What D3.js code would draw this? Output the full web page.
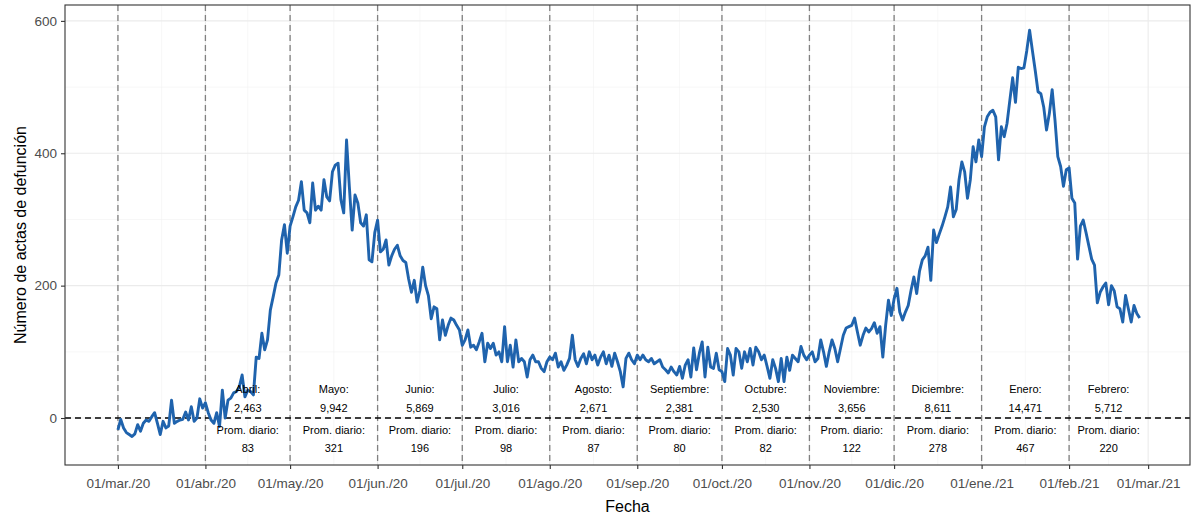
<!DOCTYPE html>
<html>
<head>
<meta charset="utf-8">
<script src="https://cdn.jsdelivr.net/npm/d3@7"></script>
<style>
  body { margin: 0; background: #fff; }
  text { font-family: "Liberation Sans", Arial, sans-serif; }
</style>
</head>
<body>
<div id="chart"></div>
<script>
// daily values, one array per month (starting on the 1st)
const mar20 = [-18,-2,-15,-22,-25,-28,-24,-10,-20,-8,-3,-5,2,8,-8,-25,-5,-15,-12,27,-8,-5,-3,-2,9,-3,17,-5,0,29,15];
const abr20 = [23,8,-3,-8,8,-13,42,0,27,30,38,40,47,65,32,42,40,35,92,90,128,103,118,163,183,204,216,269,292,249];
const may20 = [290,304,319,329,357,314,310,295,355,314,320,314,360,334,328,372,382,385,330,310,420,349,284,337,325,295,290,307,239,236,280];
const jun20 = [299,251,255,269,231,245,255,261,245,238,235,210,190,208,175,193,228,200,185,150,168,165,118,148,125,140,151,148,140,133];
const jul20 = [110,118,133,107,110,103,115,128,85,113,105,113,95,100,85,138,85,110,77,118,85,90,85,62,88,95,85,85,75,70,85];
const ago20 = [92,88,98,77,85,72,80,90,125,88,78,90,97,82,100,88,95,80,92,100,82,95,78,98,85,70,47,90,98,88,82];
const sep20 = [95,88,95,88,85,90,82,85,88,77,73,68,77,70,65,78,60,80,88,62,106,73,98,115,62,107,77,75,98,73];
const oct20 = [70,55,105,95,65,105,100,75,100,85,105,80,107,100,88,95,78,60,88,75,55,90,55,92,72,95,90,85,108,95,88];
const nov20 = [95,100,85,90,118,100,78,100,118,105,85,105,125,136,138,140,151,130,110,125,136,130,135,144,128,138,92,140,178,155];
const dic20 = [180,196,160,148,160,170,193,213,188,222,239,245,258,208,284,265,278,290,304,319,349,304,315,360,387,372,332,360,410,387,420];
const ene21 = [395,440,455,462,465,455,390,440,425,445,480,514,477,530,528,529,555,586,555,525,493,490,470,435,460,496,450,395,380,350,375];
const feb21 = [378,332,325,240,290,299,280,260,240,231,174,190,198,204,171,200,192,168,165,145,185,165,145,170,158,151];

// month summaries
const monthNames = ["Abril:", "Mayo:", "Junio:", "Julio:", "Agosto:", "Septiembre:", "Octubre:", "Noviembre:", "Diciembre:", "Enero:", "Febrero:"];
const monthTotals = ["2,463", "9,942", "5,869", "3,016", "2,671", "2,381", "2,530", "3,656", "8,611", "14,471", "5,712"];
const monthAverages = ["83", "321", "196", "98", "87", "80", "82", "122", "278", "467", "220"];

const xTickLabels = ["01/mar./20", "01/abr./20", "01/may./20", "01/jun./20", "01/jul./20", "01/ago./20", "01/sep./20",
                     "01/oct./20", "01/nov./20", "01/dic./20", "01/ene./21", "01/feb./21", "01/mar./21"];
const yTicks = [0, 200, 400, 600];

const months = [mar20, abr20, may20, jun20, jul20, ago20, sep20, oct20, nov20, dic20, ene21, feb21];
let data = [];
months.forEach(function(vals, m) {
    vals.forEach(function(v, i) {
        data.push({date: new Date(2020, 2 + m, 1 + i), value: v});
    });
});

const width = 1198, height = 515;
const margin = {top: 5, right: 8, bottom: 50, left: 65};

const svg = d3.select("#chart").append("svg")
    .attr("width", width)
    .attr("height", height);

const monthStarts = d3.range(13).map(m => new Date(2020, 2 + m, 1));

const x = d3.scaleTime()
    .domain([new Date(2020, 1, 11, 6), new Date(2021, 2, 15, 20)])
    .range([margin.left, width - margin.right]);

const y = d3.scaleLinear()
    .domain([-71, 624])
    .range([height - margin.bottom, margin.top]);

const pTop = margin.top, pBottom = height - margin.bottom;
const pLeft = margin.left, pRight = width - margin.right;

// minor grid
const minorX = monthStarts.slice(0, -1).map((d, i) => new Date((+d + +monthStarts[i + 1]) / 2));
svg.append("g").selectAll("line").data(minorX).enter().append("line")
    .attr("x1", d => x(d)).attr("x2", d => x(d))
    .attr("y1", pTop).attr("y2", pBottom)
    .attr("stroke", "#f2f2f2").attr("stroke-width", 0.6);
svg.append("g").selectAll("line").data([100, 300, 500]).enter().append("line")
    .attr("x1", pLeft).attr("x2", pRight)
    .attr("y1", d => y(d)).attr("y2", d => y(d))
    .attr("stroke", "#f2f2f2").attr("stroke-width", 0.6);

// major grid
svg.append("g").selectAll("line").data(monthStarts).enter().append("line")
    .attr("x1", d => x(d)).attr("x2", d => x(d))
    .attr("y1", pTop).attr("y2", pBottom)
    .attr("stroke", "#ebebeb").attr("stroke-width", 1.1);
svg.append("g").selectAll("line").data(yTicks).enter().append("line")
    .attr("x1", pLeft).attr("x2", pRight)
    .attr("y1", d => y(d)).attr("y2", d => y(d))
    .attr("stroke", "#ebebeb").attr("stroke-width", 1.1);

// month separators
svg.append("g").selectAll("line").data(monthStarts.slice(0, -1)).enter().append("line")
    .attr("x1", d => x(d)).attr("x2", d => x(d))
    .attr("y1", pTop).attr("y2", pBottom)
    .attr("stroke", "#808080").attr("stroke-width", 1.3)
    .attr("stroke-dasharray", "6,4");

// zero line
svg.append("line")
    .attr("x1", pLeft).attr("x2", pRight)
    .attr("y1", y(0)).attr("y2", y(0))
    .attr("stroke", "#000").attr("stroke-width", 1.3)
    .attr("stroke-dasharray", "6,4");

// series
const line = d3.line().x(d => x(d.date)).y(d => y(d.value));
svg.append("path")
    .datum(data)
    .attr("fill", "none")
    .attr("stroke", "#1f63ad")
    .attr("stroke-width", 2.9)
    .attr("stroke-linejoin", "round")
    .attr("d", line);

// month annotations
const labels = svg.append("g").attr("font-size", "11px").attr("fill", "#000").attr("text-anchor", "middle");
monthNames.forEach(function(name, i) {
    const cx = (x(monthStarts[i + 1]) + x(monthStarts[i + 2])) / 2;
    const rows = [name, monthTotals[i], "Prom. diario:", monthAverages[i]];
    const offs = [-29, -10, 12, 30];
    rows.forEach(function(t, j) {
        labels.append("text")
            .attr("x", cx)
            .attr("y", y(0) + offs[j])
            .attr("dy", "0.35em")
            .text(t);
    });
});

// panel border
svg.append("rect")
    .attr("x", pLeft).attr("y", pTop)
    .attr("width", pRight - pLeft).attr("height", pBottom - pTop)
    .attr("fill", "none").attr("stroke", "#333").attr("stroke-width", 1.1);

// axes
const xAxis = svg.append("g")
    .attr("transform", `translate(0,${pBottom})`)
    .call(d3.axisBottom(x).tickValues(monthStarts).tickSize(4).tickPadding(9)
        .tickFormat((d, i) => xTickLabels[i]));
const yAxis = svg.append("g")
    .attr("transform", `translate(${pLeft},0)`)
    .call(d3.axisLeft(y).tickValues(yTicks).tickSize(4).tickPadding(4));

[xAxis, yAxis].forEach(function(g) {
    g.select(".domain").remove();
    g.selectAll(".tick line").attr("stroke", "#333").attr("stroke-width", 1.1);
    g.selectAll(".tick text").attr("fill", "#4d4d4d").attr("font-size", "13.5px")
        .attr("font-family", "Liberation Sans, Arial, sans-serif");
});

svg.append("text")
    .attr("x", (pLeft + pRight) / 2)
    .attr("y", 512)
    .attr("text-anchor", "middle")
    .attr("font-size", "16px")
    .text("Fecha");

svg.append("text")
    .attr("transform", "rotate(-90)")
    .attr("x", -(pTop + pBottom) / 2)
    .attr("y", 26)
    .attr("text-anchor", "middle")
    .attr("font-size", "16px")
    .text("Número de actas de defunción");
</script>
</body>
</html>
